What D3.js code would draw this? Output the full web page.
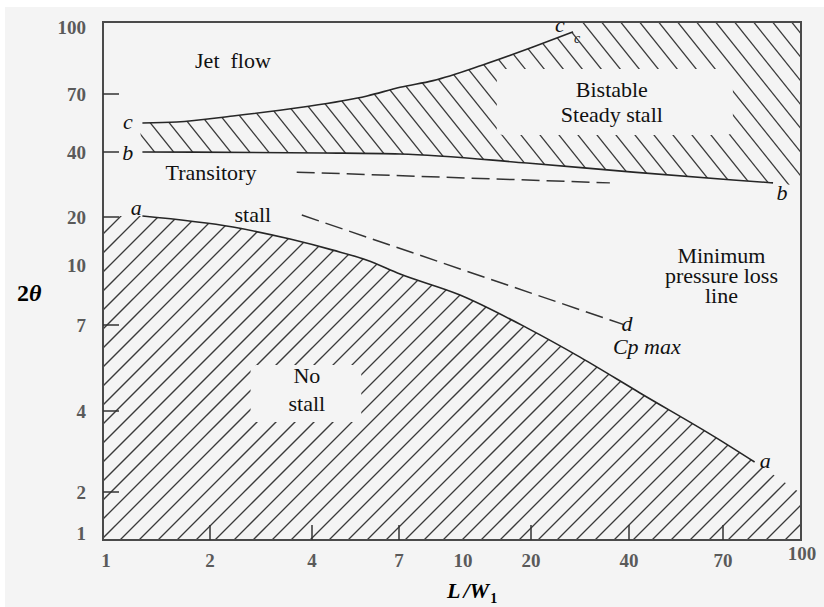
<!DOCTYPE html>
<html>
<head>
<meta charset="utf-8">
<script src="https://cdn.jsdelivr.net/npm/d3@7"></script>
<style>
 body { margin: 0; background: #fff; }
 text { font-family: "Liberation Serif", "Times New Roman", serif; white-space: pre; }
</style>
</head>
<body>
<script>
const width = 824;
const height = 607;

// axis ticks (the axes are neither linear nor log, so the scale is piecewise)
const xTickValues = [1, 2, 4, 7, 10, 20, 40, 70, 100];
const yTickValues = [1, 2, 4, 7, 10, 20, 40, 70, 100];
const tickMarks = [2, 4, 7, 20, 40, 70];

// boundary lines, [L/W1, 2theta]
const lineA = [[1.35, 20.3], [2.45, 17.9], [3.57, 15.4], [4.72, 13.1], [5.9, 11.0], [7.05, 9.55],
 [9.86, 8.5], [19.4, 6.9], [30, 5.88], [43.5, 4.63], [68, 3.33], [82, 2.74]];
const lineATail = [[100, 1.95]];
const lineB = [[1.35, 40], [4.38, 39.7], [7.05, 39.4], [19.4, 36.6], [41.3, 33.8], [73.8, 31.4], [89, 30.5]];
const lineBTail = [[100, 29.5]];
const lineC = [[1.35, 55], [1.68, 55.5], [2.45, 58.6], [3.76, 63], [5.9, 69], [7.05, 73],
 [8.6, 76], [12.9, 83], [20.4, 91], [28.6, 97.8]];
const transitoryLine = [[3.7, 33.8], [36.1, 30.5]];
const cpMaxLine = [[3.8, 20.6], [38.8, 7.03]];

// region labels [x, y, lines]
const regionLabels = [
 [2.45, 81.6, ["Jet  flow"]],
 [2.02, 31.4, ["Transitory"]],
 [2.84, 19, ["stall"]],
 [36.5, 68.4, ["Bistable", "Steady stall"]],
 [69.5, 10.4, ["Minimum", "pressure loss", "line"]],
 [3.9, 4.98, ["No", "stall"]]
];
const letterLabels = [
 [1.29, 20.6, "a"],
 [86, 2.59, "a"],
 [1.21, 51.9, "c"],
 [1.21, 37.5, "b"],
 [25.9, 97.8, "c"],
 [92.4, 25.2, "b"],
 [39.6, 6.8, "d"]
];
const cpLabel = [45.7, 5.98, "Cp max"];

const frame = {left: 103, top: 22, right: 801, bottom: 540};
const bg = "#f4f4f4";

const x = d3.scaleLinear().domain(xTickValues)
 .range([106, 210, 312, 399, 463, 531, 629, 723, 802]);
const y = d3.scaleLinear().domain(yTickValues)
 .range([533, 492, 411, 325, 265, 217, 152, 94, 27]);

const svg = d3.select("body").append("svg")
 .attr("width", width)
 .attr("height", height);

svg.append("rect").attr("x", 5).attr("y", 7)
 .attr("width", width - 5).attr("height", height - 7).attr("fill", bg);

const px = d => [x(d[0]), y(d[1])];
const smooth = d3.line().curve(d3.curveMonotoneX);
const straight = d3.line();

// clip regions for the hatching
const lowerPath = "M" + frame.left + "," + y(lineA[0][1]) + "L" +
 smooth(lineA.concat(lineATail).map(px)).slice(1) +
 "L" + frame.right + "," + frame.bottom + "L" + frame.left + "," + frame.bottom + "Z";
const cEnd = px(lineC[lineC.length - 1]);
const cStart = px(lineC[0]);
const upperPath = "M" + (cStart[0] - 3) + "," + cStart[1] + "L" +
 smooth(lineC.map(px)).slice(1) +
 "L" + cEnd[0] + "," + frame.top + "L" + frame.right + "," + frame.top + "L" +
 smooth(lineB.concat(lineBTail).map(px).reverse()).slice(1) + "Z";

const defs = svg.append("defs");
defs.append("clipPath").attr("id", "clipLower").append("path").attr("d", lowerPath);
defs.append("clipPath").attr("id", "clipUpper").append("path").attr("d", upperPath);

// "/" hatch below line a
svg.append("g").attr("clip-path", "url(#clipLower)")
 .selectAll("line")
 .data(d3.range(-700, 900, 19))
 .join("line")
 .attr("x1", d => d).attr("y1", 600)
 .attr("x2", d => d + 600).attr("y2", 0)
 .attr("stroke", "#3a3a3a").attr("stroke-width", 1.3);

// "\" hatch between lines b and c
svg.append("g").attr("clip-path", "url(#clipUpper)")
 .selectAll("line")
 .data(d3.range(-100, 900, 19))
 .join("line")
 .attr("x1", d => d).attr("y1", 0)
 .attr("x2", d => d + 200 * 0.8).attr("y2", 200)
 .attr("stroke", "#3a3a3a").attr("stroke-width", 1.3);

// cleared patches behind the labels inside the hatching (drawn later, once text is measured)
const patches = svg.append("g");

// boundary lines
svg.append("g")
 .selectAll("path")
 .data([lineA, lineB, lineC])
 .join("path")
 .attr("d", d => smooth(d.map(px)))
 .attr("fill", "none")
 .attr("stroke", "#262626")
 .attr("stroke-width", 1.6);

svg.append("g")
 .selectAll("path")
 .data([transitoryLine, cpMaxLine])
 .join("path")
 .attr("d", d => straight(d.map(px)))
 .attr("fill", "none")
 .attr("stroke", "#333")
 .attr("stroke-width", 1.5)
 .attr("stroke-dasharray", "18,7");

// frame
svg.append("rect")
 .attr("x", frame.left).attr("y", frame.top)
 .attr("width", frame.right - frame.left).attr("height", frame.bottom - frame.top)
 .attr("fill", "none").attr("stroke", "#4a4a4a").attr("stroke-width", 2);

// tick marks
svg.append("g").selectAll("line").data(tickMarks).join("line")
 .attr("x1", frame.left).attr("x2", frame.left + 16)
 .attr("y1", d => y(d)).attr("y2", d => y(d))
 .attr("stroke", "#333").attr("stroke-width", 1.5);
svg.append("g").selectAll("line").data(tickMarks).join("line")
 .attr("x1", d => x(d)).attr("x2", d => x(d))
 .attr("y1", frame.bottom).attr("y2", frame.bottom - 15)
 .attr("stroke", "#333").attr("stroke-width", 1.5);

// tick labels
const tickFont = g => g.attr("font-family", "'Liberation Sans', Arial, sans-serif")
 .attr("font-size", 19).attr("font-weight", "bold").attr("fill", "#5a5a5a");
svg.append("g").call(tickFont).selectAll("text").data(yTickValues).join("text")
 .attr("x", 86).attr("y", d => y(d) + 7)
 .attr("text-anchor", "end")
 .text(d => d);
svg.append("g").call(tickFont).selectAll("text").data(xTickValues).join("text")
 .attr("x", d => x(d)).attr("y", d => d == 100 ? 560 : 567)
 .attr("text-anchor", "middle")
 .text(d => d);

// region labels
const lineGap = {"Bistable": 25, "Minimum": 20, "No": 28};
const labels = svg.append("g").selectAll("text").data(regionLabels).join("text")
 .attr("x", d => x(d[0])).attr("y", d => y(d[1]))
 .attr("text-anchor", "middle")
 .attr("font-size", 22).attr("fill", "#111");
labels.selectAll("tspan").data(d => d[2].map((t, i) => ({t, i, x: x(d[0]), gap: lineGap[d[2][0]] || 0})))
 .join("tspan")
 .attr("x", d => d.x)
 .attr("dy", d => d.i ? d.gap : 0)
 .text(d => d.t);

// clear the hatching round "Bistable Steady stall" and "No stall"
const clearPad = {"Bistable": [64, 70, 8, 8], "No": [38, 36, -2, 6]};
labels.each(function (d) {
 const pad = clearPad[d[2][0]];
 if (!pad) return;
 const b = this.getBBox();
 patches.append("rect")
  .attr("x", b.x - pad[0]).attr("y", b.y - pad[2])
  .attr("width", b.width + pad[0] + pad[1]).attr("height", b.height + pad[2] + pad[3])
  .attr("rx", 6).attr("fill", bg);
});

svg.append("g").selectAll("text").data(letterLabels).join("text")
 .attr("x", d => x(d[0])).attr("y", d => y(d[1]))
 .attr("text-anchor", "middle")
 .attr("font-size", 22).attr("font-style", "italic").attr("fill", "#111")
 .text(d => d[2]);
svg.append("text")
 .attr("x", x(29.4)).attr("y", y(92.8))
 .attr("text-anchor", "middle")
 .attr("font-size", 14).attr("font-style", "italic").attr("fill", "#222")
 .text("c");
svg.append("text")
 .attr("x", x(cpLabel[0])).attr("y", y(cpLabel[1]))
 .attr("text-anchor", "middle")
 .attr("font-size", 22).attr("font-style", "italic").attr("fill", "#111")
 .text(cpLabel[2]);

// axis titles
const yTitle = svg.append("text").attr("x", 17).attr("y", 301)
 .attr("font-size", 24).attr("font-weight", "bold").attr("fill", "#000");
yTitle.append("tspan").text("2");
yTitle.append("tspan").attr("font-style", "italic").text("θ");

const xTitle = svg.append("text").attr("x", 447).attr("y", 598)
 .attr("font-size", 22).attr("font-weight", "bold").attr("font-style", "italic").attr("fill", "#000");
xTitle.append("tspan").text("L");
xTitle.append("tspan").attr("dx", 3).text("/W");
xTitle.append("tspan").attr("dy", 5).attr("dx", 1).attr("font-size", 14).attr("font-style", "normal").text("1");
</script>
</body>
</html>
